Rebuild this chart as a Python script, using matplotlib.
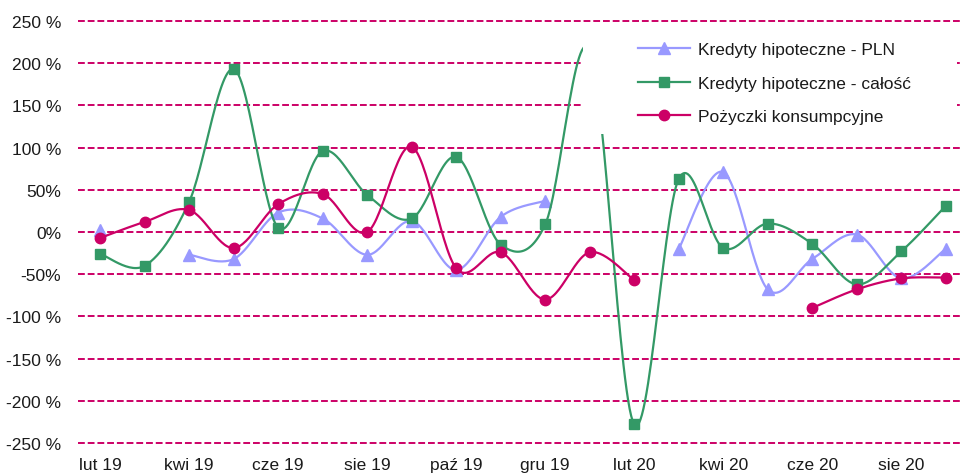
import numpy as np
import matplotlib.pyplot as plt
from matplotlib.lines import Line2D
from matplotlib.patches import Rectangle

plt.rcParams['font.family'] = ['Liberation Sans', 'DejaVu Sans']

# miesiace: lut 19 .. wrz 20
months = ['lut 19', 'mar 19', 'kwi 19', 'maj 19', 'cze 19', 'lip 19', 'sie 19', 'wrz 19',
          'paź 19', 'lis 19', 'gru 19', 'sty 20', 'lut 20', 'mar 20', 'kwi 20', 'maj 20',
          'cze 20', 'lip 20', 'sie 20', 'wrz 20']
nan = np.nan
pln = [2, nan, -27, -32, 23, 16, -27, 13, -45, 18, 37, nan, nan, -20, 71, -68, -32, -3, -55, -20]
calosc = [-26, -40, 36, 193, 5, 96, 44, 16, 89, -15, 9, 215, -228, 63, -19, 10, -14, -62, -23, 31]
pozyczki = [-7, 12, 26, -19, 33, 45, 0, 101, -43, -24, -80, -24, -57, nan, nan, nan, -90, -68, -55, -54]

labels = ['Kredyty hipoteczne - PLN', 'Kredyty hipoteczne - całość', 'Pożyczki konsumpcyjne']
colors = ['#9999FF', '#339966', '#CC0066']
markers = ['^', 's', 'o']
msizes = [8, 7, 7.5]


def smooth(vals, n=30):
    # krzywa jak w Excelu (Catmull-Rom / Bezier), przerwy przy brakach
    y = np.asarray(vals, float)
    idx = np.where(~np.isnan(y))[0]
    runs = np.split(idx, np.where(np.diff(idx) != 1)[0] + 1)
    xs, ys = [], []
    t = np.linspace(0, 1, n)
    for run in runs:
        if len(run) < 2:
            continue
        px = np.r_[run[0], run, run[-1]].astype(float)
        py = np.r_[y[run[0]], y[run], y[run[-1]]]
        for i in range(1, len(px) - 2):
            p0 = np.array([px[i], py[i]])
            p3 = np.array([px[i + 1], py[i + 1]])
            c1 = p0 + (p3 - np.array([px[i - 1], py[i - 1]])) / 6
            c2 = p3 - (np.array([px[i + 2], py[i + 2]]) - p0) / 6
            b = ((1 - t) ** 3)[:, None] * p0 + (3 * (1 - t) ** 2 * t)[:, None] * c1 \
                + (3 * (1 - t) * t ** 2)[:, None] * c2 + (t ** 3)[:, None] * p3
            xs.extend(b[:, 0]); ys.extend(b[:, 1])
        xs.append(nan); ys.append(nan)
    return xs, ys


fig = plt.figure(figsize=(9.6, 4.77), dpi=100)
ax = fig.add_axes([78 / 960, 1 - 444 / 477, 890 / 960, 422 / 477])

x = np.arange(len(months))
for vals, c, m, ms in zip([pln, calosc, pozyczki], colors, markers, msizes):
    sx, sy = smooth(vals)
    ax.plot(sx, sy, color=c, lw=1.6, zorder=3, solid_capstyle='round')
    ax.plot(x, vals, ls='none', marker=m, ms=ms, color=c, zorder=3)

ax.set_xlim(-0.5, len(months) - 0.5)
ax.set_ylim(-250, 250)
yt = np.arange(-250, 251, 50)
ax.set_yticks(yt)
ax.set_yticklabels([f'{v} %' if abs(v) >= 100 else f'{v}%' for v in yt])
ax.set_xticks(x[::2])
ax.set_xticklabels(months[::2])
ax.tick_params(length=0, labelsize=12.5, labelcolor='#1a1a1a')
ax.tick_params(axis='y', pad=12)
ax.tick_params(axis='x', pad=10)
ax.grid(axis='y', color='#CC0066', lw=1.4, ls=(0, (3.5, 1.5)))
for gl in ax.get_ygridlines():
    gl.set_clip_on(False)
ax.set_axisbelow(True)
for s in ax.spines.values():
    s.set_visible(False)

# tlo legendy
ax.add_patch(Rectangle((583 / 960, 1 - 135 / 477), 374 / 960, 105 / 477,
                       transform=fig.transFigure, facecolor='white', edgecolor='none', zorder=4))
handles = [Line2D([], [], color=c, marker=m, ms=ms, lw=1.6) for c, m, ms in zip(colors, markers, msizes)]
leg = ax.legend(handles, labels, loc='center left', bbox_to_anchor=(638 / 960, 1 - 84 / 477),
                bbox_transform=fig.transFigure, frameon=False, borderpad=0, borderaxespad=0,
                handlelength=3.0, handletextpad=0.45, labelspacing=1.05, fontsize=12.5)
leg.set_zorder(5)
for tx in leg.get_texts():
    tx.set_color('#1a1a1a')

fig.savefig('out.png', dpi=100)
